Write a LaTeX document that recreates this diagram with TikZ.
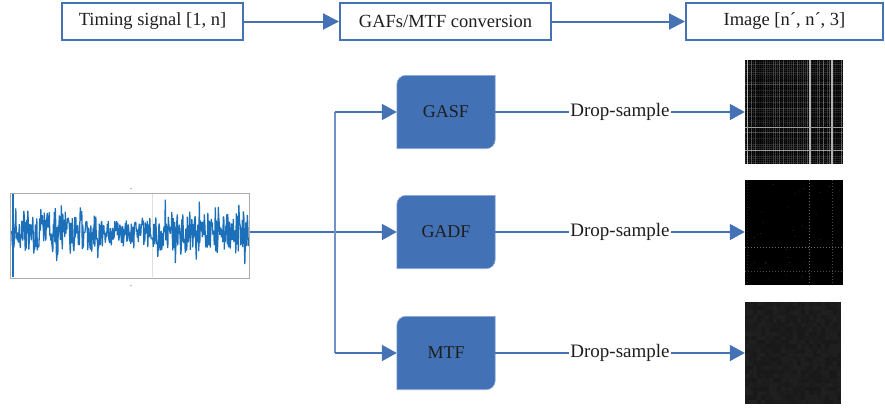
\documentclass[tikz,border=0pt]{standalone}
\usepackage{fontspec}
\setmainfont{Liberation Serif}
\usetikzlibrary{arrows.meta,calc,backgrounds}
\definecolor{lineblue}{RGB}{68,114,180}
\definecolor{splitblue}{RGB}{112,146,200}
\definecolor{boxblue}{RGB}{67,113,181}
\definecolor{edgeblue}{RGB}{150,175,215}
\definecolor{sigblue}{RGB}{28,112,186}
\definecolor{txt}{RGB}{30,30,30}
\begin{document}
\begin{tikzpicture}[x=1pt,y=-1pt,
  topbox/.style={draw=lineblue, line width=2pt, fill=white, minimum height=37pt, inner sep=0pt, font=\fontsize{18.5}{20}\selectfont, text=txt},
  procbox/.style={minimum width=98pt, minimum height=73pt, inner sep=0pt, font=\fontsize{18}{20}\selectfont, text=txt},
  conn/.style={draw=lineblue, line width=2pt},
  arr/.style={conn, -{Triangle[length=15pt,width=16pt]}},
  imgbox/.style={fill=black, inner sep=0pt},
  droplabel/.style={fill=white, inner sep=1pt, font=\fontsize{19}{20}\selectfont, text=txt},
]
\useasboundingbox (0,0) rectangle (885,407);
\pgfmathsetseed{12}

% ---------- top row ----------
\node[topbox, minimum width=181pt] (t1) at (152.5,21.5) {Timing signal [1, n]};
\node[topbox, minimum width=211pt] (t2) at (445.5,21.5) {GAFs/MTF conversion};
\node[topbox, minimum width=197pt] (t3) at (784.5,21.5) {Image [n´, n´, 3]};
\draw[arr, -{Triangle[length=16pt,width=16pt]}] (t1.east) -- (t2.west);
\draw[arr, -{Triangle[length=16pt,width=16pt]}] (t2.east) -- (t3.west);

% ---------- processing boxes ----------
\node[procbox] (gasf) at (446,112) {GASF};
\node[procbox] (gadf) at (446,232) {GADF};
\node[procbox] (mtf)  at (446,353) {MTF};
\begin{scope}[on background layer]
\foreach \b in {gasf,gadf,mtf}{
  \filldraw[fill=boxblue, draw=edgeblue, line width=0.6pt]
    ($(\b.north west)+(0,9)$) arc[start angle=180,end angle=270,radius=9]
    -- (\b.north east) -- ($(\b.south east)+(0,-9)$)
    arc[start angle=0,end angle=90,radius=9] -- (\b.south west) -- cycle;
}
\end{scope}

% ---------- signal ----------
\node[draw=gray!65, line width=1pt, minimum width=239pt, minimum height=85pt, inner sep=0pt] (sig) at (129.5,235.5) {};
\draw[gray!25, line width=0.4pt] (152,194) -- (152,277);
\draw[sigblue, line width=1.3pt, line join=bevel] plot[domain=0:473, samples=474]
  ({11.8+\x*0.5}, {232+(1-0.4*exp(-((\x-230)/60)^2))*(19*rand+32*rand*rand*rand)});
\draw[sigblue, line width=1.5pt] (13,194) -- (13,277);
\fill[gray!60] (131,188.5) circle (0.8);
\fill[gray!60] (131,285.5) circle (0.8);

% ---------- images ----------
\node[imgbox, minimum width=98pt, minimum height=104pt] (img1) at (794,112) {};
\node[imgbox, minimum width=98pt, minimum height=105pt] (img2) at (794,232.5) {};
\node[imgbox, fill={rgb,255:red,27;green,27;blue,27}, minimum width=96pt, minimum height=102pt] (img3) at (793,353) {};

\begin{scope}
\clip (img1.north west) rectangle (img1.south east);
\foreach \k in {0,...,48}{
  \pgfmathtruncatemacro\g{5+50*rnd*rnd}
  \draw[white!\g!black, line width=1.3pt] ($(img1.north west)+(\k*2+1,0)$) -- ++(0,104);
}
\foreach \k in {0,...,51}{
  \pgfmathtruncatemacro\g{5+55*rnd*rnd}
  \draw[white!\g!black, line width=1.3pt, opacity=0.55] ($(img1.north west)+(0,\k*2+1)$) -- ++(98,0);
}
\foreach \r in {0.03,0.665,0.89}{
  \draw[white!70!black, line width=1.4pt] ($(img1.north west)+(98*\r,0)$) -- ++(0,104);
}
\foreach \r in {0.65,0.87}{
  \draw[white!62!black, line width=1.4pt] ($(img1.north west)+(0,104*\r)$) -- ++(98,0);
}
\end{scope}

\begin{scope}
\clip (img2.north west) rectangle (img2.south east);
\foreach \r/\c in {0.665/42,0.89/28,0.03/15}{
  \draw[white!\c!black, line width=1pt, dash pattern=on 1pt off 2pt] ($(img2.north west)+(98*\r,0)$) -- ++(0,105);
}
\foreach \r/\c in {0.64/42,0.87/28}{
  \draw[white!\c!black, line width=1pt, dash pattern=on 1pt off 2pt] ($(img2.north west)+(0,105*\r)$) -- ++(98,0);
}
\foreach \k in {1,...,40}{
  \fill[white!22!black] ($(img2.north west)+(2+94*rnd,2+100*rnd)$) circle (0.5);
}
\end{scope}

\begin{scope}
\clip (img3.north west) rectangle (img3.south east);
\foreach \i in {0,...,23}{
  \foreach \j in {0,...,23}{
    \pgfmathtruncatemacro\g{10+3*rnd}
    \fill[white!\g!black] ($(img3.north west)+(\i*4,\j*4.25)$) rectangle ++(4.1,4.35);
  }
}
\end{scope}

% ---------- connectors ----------
\coordinate (split) at (335,232);
\draw[conn] (sig.east |- split) -- (split);
\draw[arr] (split) -- (gadf.west);
\draw[draw=splitblue, line width=1.5pt] (split |- gasf.west) -- (split |- mtf.west);
\draw[arr] (split |- gasf.west) -- (gasf.west);
\draw[arr] (split |- mtf.west) -- (mtf.west);

\draw[arr] (gasf.east) -- node[droplabel] {Drop-sample} (gasf.east -| img1.west);
\draw[arr] (gadf.east) -- node[droplabel] {Drop-sample} (gadf.east -| img2.west);
\draw[arr] (mtf.east) -- node[droplabel] {Drop-sample} (mtf.east -| img3.west);
\end{tikzpicture}
\end{document}
